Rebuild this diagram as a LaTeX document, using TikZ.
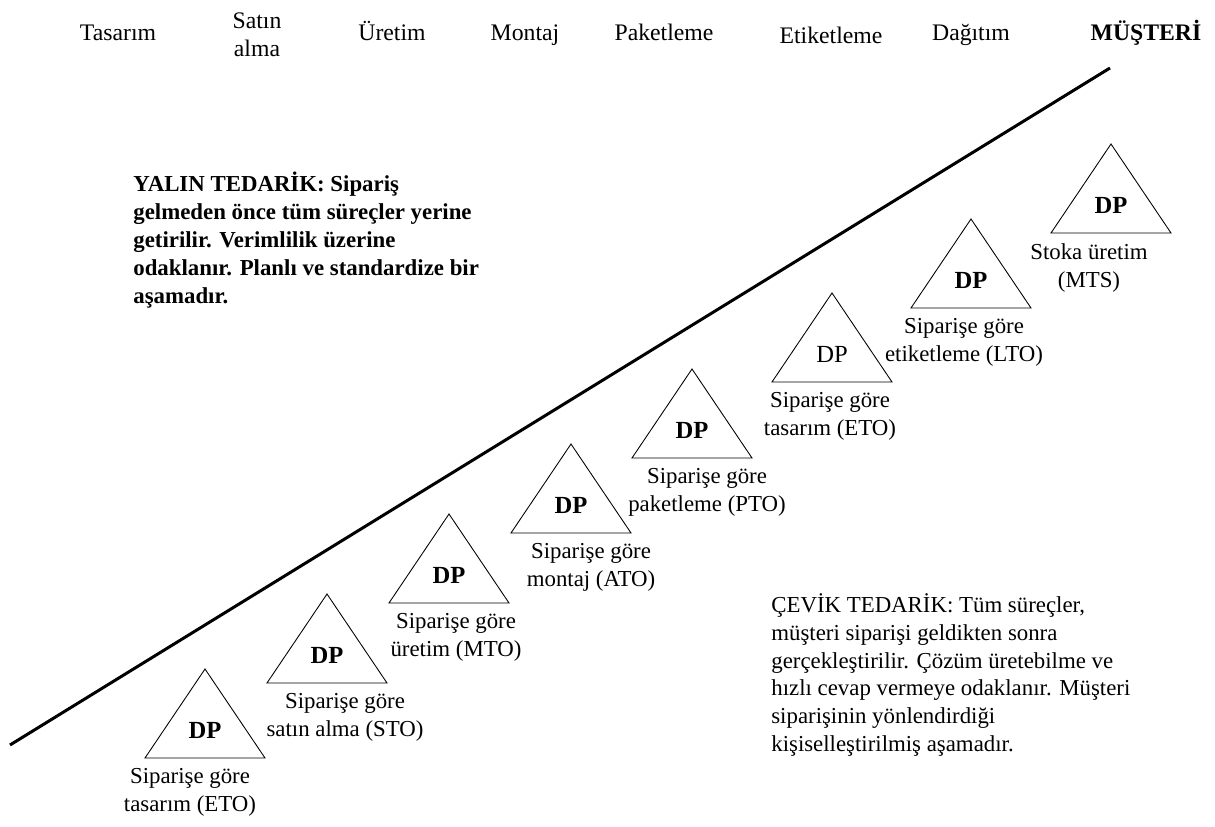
\documentclass[tikz,border=0pt]{standalone}
\usepackage{fontspec}
\setmainfont{Liberation Serif}
\usepackage{tikz}
\usetikzlibrary{positioning}

\begin{document}
\begin{tikzpicture}[x=0.02cm, y=-0.02cm,
  tri/.style={draw, line width=0.5pt},
  dp/.style={font=\fontsize{14}{16}\selectfont\bfseries, inner sep=0pt},
  dpn/.style={font=\fontsize{14}{16}\selectfont, inner sep=0pt},
  lbl/.style={font=\fontsize{13}{15.9}\selectfont, align=center, anchor=north, inner sep=0pt},
  hdr/.style={font=\fontsize{13.5}{16.3}\selectfont, anchor=base, inner sep=0pt},
  note/.style={font=\fontsize{13}{15.9}\selectfont, align=left, anchor=west, inner sep=0pt}]
  \useasboundingbox (0,0) rectangle (1215,827);

  % process steps along the top (baseline positions)
  \foreach \n/\x/\y/\t in {1/118/41/Tasarım, 3/392/41/Üretim, 4/525/41/Montaj,
                           5/664/41/Paketleme, 6/831/44/Etiketleme, 7/971/41/Dağıtım}
    \node[hdr] (h\n) at (\x,\y) {\t};
  \node[hdr, anchor=north, align=center] (h2) at (257,12) {Satın\\alma};
  \node[hdr, font=\fontsize{13.5}{16.3}\selectfont\bfseries] (h8) at (1146,41) {MÜŞTERİ};

  % dividing line between the two regions
  \coordinate (ls) at (10,745);
  \coordinate (le) at (1110,68);
  \draw[line width=1.7pt] (ls) -- (le);

  % decoupling points: apex x, apex y, label x
  \foreach \n/\x/\y/\lx/\s/\t in {
      1/205/669/190/dp/{Siparişe göre\\tasarım (ETO)},
      2/327/594/345/dp/{Siparişe göre\\satın alma (STO)},
      3/449/514/456/dp/{Siparişe göre\\üretim (MTO)},
      4/571/444/591/dp/{Siparişe göre\\montaj (ATO)},
      5/692/369/707/dp/{Siparişe göre\\paketleme (PTO)},
      6/832/293/830/dpn/{Siparişe göre\\tasarım (ETO)},
      7/971/219/964/dp/{Siparişe göre\\etiketleme (LTO)},
      8/1111/144/1089/dp/{Stoka üretim\\(MTS)}} {
    \draw[tri] (\x-60,\y+89) -- (\x,\y) -- (\x+60,\y+89) -- cycle;
    \node[\s] (dp\n) at (\x,\y+61) {DP};
    \node[lbl] (lb\n) at (\lx,\y+99) {\t};
  }

  % the two supply regimes
  \node[note, font=\fontsize{13}{15.9}\selectfont\bfseries] (yalin) at (133,240)
       {YALIN TEDARİK: Sipariş\\gelmeden önce tüm süreçler yerine\\getirilir. Verimlilik üzerine\\odaklanır. Planlı ve standardize bir\\aşamadır.};
  \node[note] (cevik) at (771,675)
       {ÇEVİK TEDARİK: Tüm süreçler,\\müşteri siparişi geldikten sonra\\gerçekleştirilir. Çözüm üretebilme ve\\hızlı cevap vermeye odaklanır. Müşteri\\siparişinin yönlendirdiği\\kişiselleştirilmiş aşamadır.};
\end{tikzpicture}
\end{document}
